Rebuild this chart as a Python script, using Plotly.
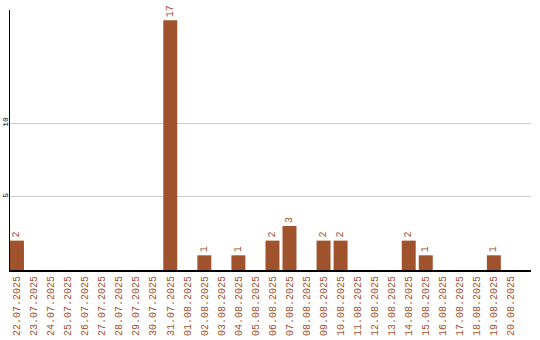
import plotly.graph_objects as go

dates = ["22.07.2025","23.07.2025","24.07.2025","25.07.2025","26.07.2025","27.07.2025",
         "28.07.2025","29.07.2025","30.07.2025","31.07.2025","01.08.2025","02.08.2025",
         "03.08.2025","04.08.2025","05.08.2025","06.08.2025","07.08.2025","08.08.2025",
         "09.08.2025","10.08.2025","11.08.2025","12.08.2025","13.08.2025","14.08.2025",
         "15.08.2025","16.08.2025","17.08.2025","18.08.2025","19.08.2025","20.08.2025"]
counts = [2,0,0,0,0,0,0,0,0,17,0,1,0,1,0,2,3,0,2,2,0,0,0,2,1,0,0,0,1,0]
labels = [str(v) if v else "" for v in counts]

COLOR = "#A0522D"

fig = go.Figure(go.Bar(
    x=dates, y=counts, marker_color=COLOR, marker_line_width=0,
    text=labels, textposition="outside", textangle=-90, cliponaxis=False,
    textfont=dict(family="Liberation Mono", size=10, color=COLOR),
))
fig.update_layout(
    width=540, height=340, margin=dict(l=10, r=9, t=10, b=70),
    plot_bgcolor="white", paper_bgcolor="white", bargap=0.18, showlegend=False,
    font=dict(family="Liberation Mono"),
)
fig.update_xaxes(
    type="category", range=[-0.41, 30.18], tickangle=-90, automargin=False,
    tickfont=dict(family="Liberation Mono", size=10, color=COLOR),
    showline=True, linecolor="black", linewidth=2, showgrid=False, ticks="",
)
fig.update_yaxes(
    range=[0, 17.7], tickvals=[5, 10], tickangle=-90, automargin=False,
    ticklabelstandoff=-2,
    tickfont=dict(family="Liberation Mono", size=8, color="black"),
    showline=True, linecolor="black", linewidth=1, showgrid=True,
    gridcolor="#cccccc", gridwidth=1, zeroline=False, ticks="",
)
fig.write_html("out.html")
